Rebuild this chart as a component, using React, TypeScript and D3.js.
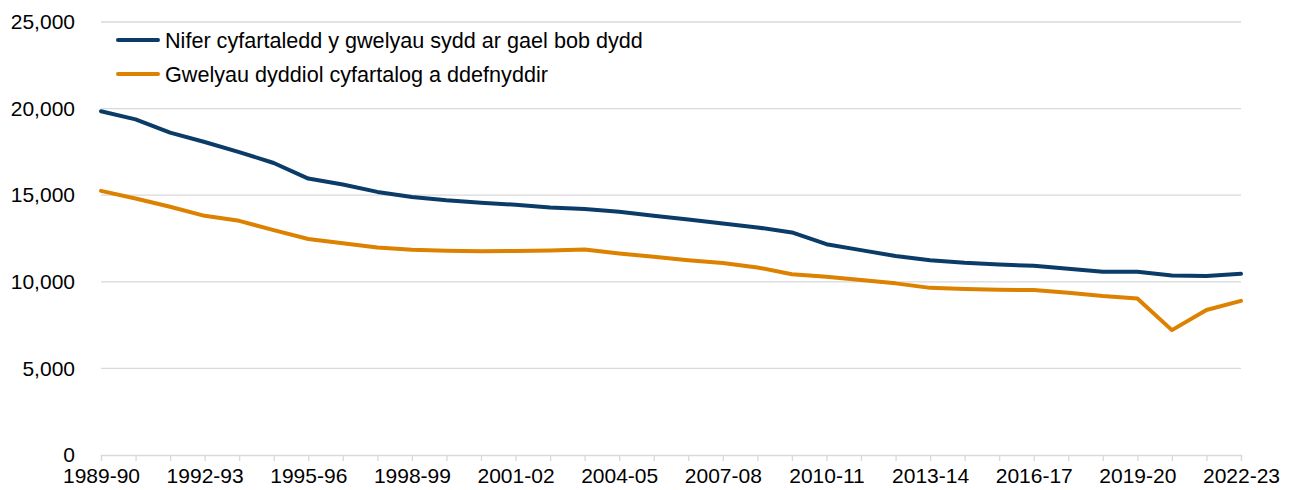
import { useEffect, useRef } from 'react';
import * as d3 from 'd3';

const years = [
  '1989-90', '1990-91', '1991-92', '1992-93', '1993-94', '1994-95', '1995-96', '1996-97',
  '1997-98', '1998-99', '1999-00', '2000-01', '2001-02', '2002-03', '2003-04', '2004-05',
  '2005-06', '2006-07', '2007-08', '2008-09', '2009-10', '2010-11', '2011-12', '2012-13',
  '2013-14', '2014-15', '2015-16', '2016-17', '2017-18', '2018-19', '2019-20', '2020-21',
  '2021-22', '2022-23',
];

const availableBeds = [
  19850, 19380, 18610, 18070, 17490, 16860, 15960, 15620, 15190, 14900, 14710, 14570,
  14450, 14290, 14210, 14040, 13810, 13600, 13370, 13140, 12850, 12170, 11830, 11490,
  11250, 11100, 11000, 10920, 10750, 10580, 10580, 10370, 10340, 10460,
];

const occupiedBeds = [
  15250, 14810, 14330, 13810, 13520, 12980, 12470, 12220, 11980, 11850, 11790, 11770,
  11780, 11810, 11870, 11640, 11440, 11250, 11080, 10830, 10440, 10290, 10100, 9910,
  9650, 9590, 9540, 9520, 9370, 9180, 9040, 7210, 8370, 8900,
];

const yTicks = [0, 5000, 10000, 15000, 20000, 25000];

const seriesNames = [
  'Nifer cyfartaledd y gwelyau sydd ar gael bob dydd',
  'Gwelyau dyddiol cyfartalog a ddefnyddir',
];
const seriesColors = ['#0b3c68', '#dc8100'];

export default function App() {
  const svgRef = useRef<SVGSVGElement>(null);

  useEffect(() => {
    if (!svgRef.current) return;
    const svg = d3.select(svgRef.current);
    svg.selectAll('*').remove();

    const width = 1290;
    const height = 490;
    const margin = { top: 22, right: 49, bottom: 35, left: 101 };
    const innerW = width - margin.left - margin.right;
    const innerH = height - margin.top - margin.bottom;
    const font = '"Liberation Sans", Arial, sans-serif';

    const g = svg.append('g')
      .attr('transform', `translate(${margin.left},${margin.top})`);

    const x = d3.scalePoint<string>()
      .domain(years)
      .range([0, innerW]);

    const y = d3.scaleLinear()
      .domain([0, 25000])
      .range([innerH, 0]);

    // Gridlines
    g.append('g')
      .selectAll('line')
      .data(yTicks.filter(d => d > 0))
      .enter()
      .append('line')
      .attr('x1', 0)
      .attr('x2', innerW)
      .attr('y1', d => y(d))
      .attr('y2', d => y(d))
      .attr('stroke', '#d9d9d9')
      .attr('stroke-width', 1.3);

    // Y axis labels
    g.append('g')
      .call(d3.axisLeft(y).tickValues(yTicks).tickFormat(d3.format(',')).tickSize(0).tickPadding(26))
      .call(a => a.select('.domain').remove())
      .call(a => a.selectAll('.tick text')
        .attr('fill', '#000')
        .attr('font-family', font)
        .attr('font-size', '21px'));

    // X axis
    g.append('g')
      .attr('transform', `translate(0,${innerH})`)
      .call(d3.axisBottom(x)
        .tickSize(6)
        .tickPadding(7)
        .tickFormat((d, i) => (i % 3 === 0 ? d : '')))
      .call(a => a.select('.domain')
        .attr('stroke', '#d9d9d9')
        .attr('stroke-width', 1.3))
      .call(a => a.selectAll('.tick line')
        .attr('stroke', '#d9d9d9')
        .attr('stroke-width', 1.3))
      .call(a => a.selectAll('.tick text')
        .attr('fill', '#000')
        .attr('font-family', font)
        .attr('font-size', '21px'));

    // Lines
    const line = d3.line<number>()
      .x((_, i) => x(years[i])!)
      .y(d => y(d));

    [availableBeds, occupiedBeds].forEach((series, i) => {
      g.append('path')
        .datum(series)
        .attr('fill', 'none')
        .attr('stroke', seriesColors[i])
        .attr('stroke-width', 4)
        .attr('stroke-linejoin', 'round')
        .attr('stroke-linecap', 'round')
        .attr('d', line);
    });

    // Legend
    const legend = svg.append('g').attr('transform', 'translate(118,40)');
    seriesNames.forEach((name, i) => {
      const row = legend.append('g').attr('transform', `translate(0,${i * 34})`);
      row.append('line')
        .attr('x1', 0)
        .attr('x2', 40)
        .attr('stroke', seriesColors[i])
        .attr('stroke-width', 4)
        .attr('stroke-linecap', 'round');
      row.append('text')
        .attr('x', 47)
        .attr('dy', '0.35em')
        .attr('fill', '#000')
        .attr('font-family', font)
        .attr('font-size', '21.6px')
        .text(name);
    });
  }, []);

  return (
    <svg ref={svgRef} width={1290} height={490}
      style={{ position: 'absolute', left: 0, top: 0, background: '#fff' }} />
  );
}
